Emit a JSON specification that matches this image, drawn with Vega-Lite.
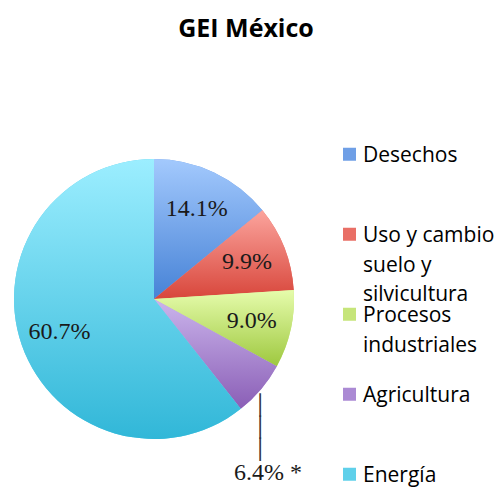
{
  "$schema": "https://vega.github.io/schema/vega-lite/v6.json",
  "autosize": "none",
  "padding": {"left": 14, "top": 159, "right": 203, "bottom": 49},
  "width": 280,
  "height": 280,
  "background": "white",
  "title": {
    "text": "GEI México",
    "font": "Open Sans",
    "fontSize": 25,
    "fontWeight": "bold",
    "color": "#000000",
    "anchor": "middle",
    "dx": 92,
    "offset": 104
  },
  "config": {
    "view": {"stroke": null},
    "style": {"guide-label": {"lineHeight": 29.5}}
  },
  "data": {
    "values": [
      {"cat": "Desechos", "value": 14.1, "order": 1, "label": "14.1%"},
      {"cat": "Uso y cambio suelo y silvicultura", "value": 9.9, "order": 2, "label": "9.9%"},
      {"cat": "Procesos industriales", "value": 9.0, "order": 3, "label": "9.0%"},
      {"cat": "Agricultura", "value": 6.4, "order": 4, "label": "6.4% *"},
      {"cat": "Energía", "value": 60.7, "order": 5, "label": "60.7%"}
    ]
  },
  "encoding": {
    "theta": {"field": "value", "type": "quantitative", "stack": true},
    "order": {"field": "order", "type": "quantitative"}
  },
  "layer": [
    {
      "mark": {"type": "arc", "outerRadius": 140},
      "encoding": {
        "color": {
          "field": "cat",
          "type": "nominal",
          "sort": ["Desechos", "Uso y cambio suelo y silvicultura", "Procesos industriales", "Agricultura", "Energía"],
          "scale": {
            "domain": ["Desechos", "Uso y cambio suelo y silvicultura", "Procesos industriales", "Agricultura", "Energía"],
            "range": ["#6f9fe6", "#e96f66", "#c6e57a", "#ab8ad4", "#5fd0ea"]
          },
          "legend": {
            "title": null,
            "orient": "none",
            "legendX": 325,
            "legendY": -13,
            "padding": 0,
            "rowPadding": 0,
            "clipHeight": 20,
            "symbolType": "M-1,-1.26H1V0.74H-1Z",
            "symbolSize": 169,
            "symbolStrokeWidth": 0,
            "labelFont": "Open Sans",
            "labelFontSize": 21,
            "labelColor": "#000000",
            "labelBaseline": "middle",
            "labelOffset": 3,
            "labelLimit": 300,
            "labelExpr": "datum.label === 'Uso y cambio suelo y silvicultura' ? ['Uso y cambio', 'suelo y', 'silvicultura'] : datum.label === 'Procesos industriales' ? ['Procesos', 'industriales', ''] : [datum.label, '', '']"
          }
        }
      }
    },
    {
      "mark": {"type": "arc", "outerRadius": 140},
      "encoding": {
        "fill": {
          "condition": [
            {"test": "datum.cat === 'Desechos'", "value": {"gradient": "linear", "x1": 0, "y1": 0, "x2": 0, "y2": 1, "stops": [{"offset": 0, "color": "#a3c9fd"}, {"offset": 1, "color": "#4682d6"}]}},
            {"test": "datum.cat === 'Uso y cambio suelo y silvicultura'", "value": {"gradient": "linear", "x1": 0, "y1": 0, "x2": 0, "y2": 1, "stops": [{"offset": 0, "color": "#fba49d"}, {"offset": 1, "color": "#d8463b"}]}},
            {"test": "datum.cat === 'Procesos industriales'", "value": {"gradient": "linear", "x1": 0, "y1": 0, "x2": 0, "y2": 1, "stops": [{"offset": 0, "color": "#e6fcac"}, {"offset": 1, "color": "#9ec83f"}]}},
            {"test": "datum.cat === 'Agricultura'", "value": {"gradient": "linear", "x1": 0, "y1": 0, "x2": 0, "y2": 1, "stops": [{"offset": 0, "color": "#cbb5ec"}, {"offset": 1, "color": "#8a5eb6"}]}}
          ],
          "value": {"gradient": "linear", "x1": 0, "y1": 0, "x2": 0, "y2": 1, "stops": [{"offset": 0, "color": "#9ceeff"}, {"offset": 1, "color": "#31b7d8"}]}
        }
      }
    },
    {
      "mark": {"type": "text", "radius": 100, "font": "Liberation Serif", "fontSize": 24, "color": "#1a1a1a"},
      "encoding": {
        "text": {"condition": {"test": "datum.cat === 'Agricultura'", "value": ""}, "field": "label"}
      }
    },
    {
      "mark": {"type": "text", "radius": 140, "dx": 7, "dy": 84, "font": "Liberation Serif", "fontSize": 24, "color": "#1a1a1a"},
      "encoding": {
        "text": {"condition": {"test": "datum.cat === 'Agricultura'", "field": "label"}, "value": ""}
      }
    },
    {
      "mark": {"type": "text", "radius": 140, "dx": -1, "dy": 17, "font": "DejaVu Sans", "fontSize": 20, "lineHeight": 22, "baseline": "middle", "color": "#333333"},
      "encoding": {
        "text": {"condition": {"test": "datum.cat === 'Agricultura'", "value": ["│", "│", "│"]}, "value": ""}
      }
    }
  ]
}
